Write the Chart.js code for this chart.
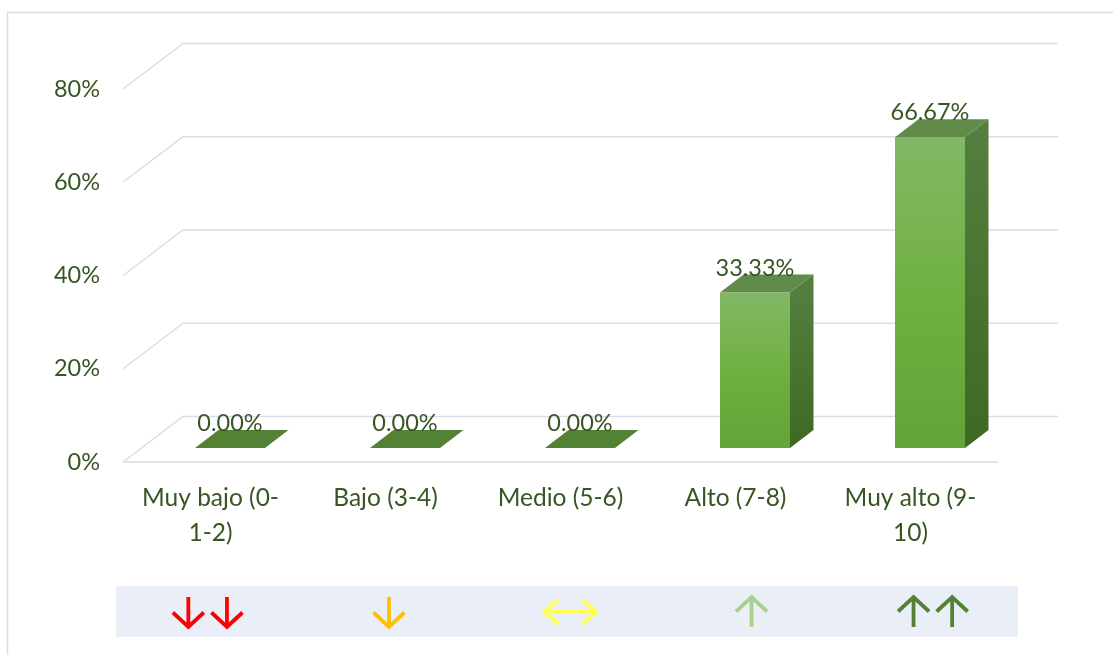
<!DOCTYPE html>
<html>
<head>
<meta charset="utf-8">
<script src="https://cdn.jsdelivr.net/npm/chart.js@4/dist/chart.umd.min.js"></script>
<style>
html,body{margin:0;padding:0;background:#ffffff;}
#wrap{position:relative;width:1113px;height:655px;}
</style>
</head>
<body>
<div id="wrap"><canvas id="c" width="1113" height="655"></canvas></div>
<script>
// ---- data ----
const categories = [["Muy bajo (0-", "1-2)"], "Bajo (3-4)", "Medio (5-6)", "Alto (7-8)", ["Muy alto (9-", "10)"]];
const values = [0, 0, 0, 0.3333, 0.6667];
const yTickValues = [0, 0.2, 0.4, 0.6, 0.8];
const indicatorSymbols = ["↓↓", "↓", "↔", "↑", "↑↑"];
const indicatorColors = ["#FF0000", "#FFC000", "#FFFF5A", "#A9D18E", "#548235"];

// ---- style ----
const TEXT_COLOR = "#375623";
const FONT_FAMILY = "Lato, 'Open Sans', sans-serif";
const GRID_COLOR = "#DADDE4";
const WALL = { dx: 60, dy: -45.5 };      // depth of the 3D floor / wall
const BAR_SHIFT = { dx: 19.5, dy: -14 };  // bar front face offset inside the depth
const BAR_DEPTH = { dx: 23.5, dy: -18 };  // bar depth

function pct(v) { return (v * 100).toFixed(2) + "%"; }

function drawArrowGlyph(ctx, ch, cx, cy) {
  const L = 15, HX = 15.5, HY = 14.5;
  ctx.beginPath();
  if (ch === "↓") {
    ctx.moveTo(cx, cy - L); ctx.lineTo(cx, cy + L);
    ctx.moveTo(cx - HX, cy + L - HY); ctx.lineTo(cx, cy + L); ctx.lineTo(cx + HX, cy + L - HY);
  } else if (ch === "↑") {
    ctx.moveTo(cx, cy + L); ctx.lineTo(cx, cy - L);
    ctx.moveTo(cx - HX, cy - L + HY); ctx.lineTo(cx, cy - L); ctx.lineTo(cx + HX, cy - L + HY);
  } else if (ch === "↔") {
    const W = 26, AX = 14, AY = 12;
    ctx.moveTo(cx - W, cy); ctx.lineTo(cx + W, cy);
    ctx.moveTo(cx - W + AX, cy - AY); ctx.lineTo(cx - W, cy); ctx.lineTo(cx - W + AX, cy + AY);
    ctx.moveTo(cx + W - AX, cy - AY); ctx.lineTo(cx + W, cy); ctx.lineTo(cx + W - AX, cy + AY);
  }
  ctx.stroke();
}

const plot3d = {
  id: "plot3d",
  beforeDraw(chart) {
    const ctx = chart.ctx;
    ctx.save();
    // outer frame (left and top edges)
    ctx.strokeStyle = "#D9DDE4";
    ctx.lineWidth = 1.5;
    ctx.beginPath();
    ctx.moveTo(7.5, 655);
    ctx.lineTo(7.5, 12.5);
    ctx.lineTo(1113, 12.5);
    ctx.stroke();
    // indicator strip
    const sx = 116, sy = 586, sw = 902, sh = 51;
    ctx.fillStyle = "#EAEEF7";
    ctx.fillRect(sx, sy, sw, sh);
    const colW = 181.3, gap = 38.6;
    ctx.lineWidth = 3.8;
    ctx.lineCap = "butt";
    ctx.lineJoin = "miter";
    indicatorSymbols.forEach((s, i) => {
      const chars = Array.from(s);
      const cx = 117 + colW * (i + 0.5);
      ctx.strokeStyle = indicatorColors[i];
      chars.forEach((ch, k) => {
        const off = (k - (chars.length - 1) / 2) * gap;
        drawArrowGlyph(ctx, ch, cx + off, 612);
      });
    });
    ctx.restore();
  },
  beforeDatasetsDraw(chart) {
    const ctx = chart.ctx;
    const ys = chart.scales.y, area = chart.chartArea;
    ctx.save();
    ctx.strokeStyle = GRID_COLOR;
    ctx.lineWidth = 1.5;
    yTickValues.forEach(v => {
      const y = ys.getPixelForValue(v);
      ctx.beginPath();
      ctx.moveTo(area.left, y);
      ctx.lineTo(area.left + WALL.dx, y + WALL.dy);
      ctx.lineTo(area.right + WALL.dx, y + WALL.dy);
      ctx.stroke();
      if (v === 0) {
        ctx.beginPath();
        ctx.moveTo(area.left, y);
        ctx.lineTo(area.right, y);
        ctx.stroke();
      }
    });
    ctx.restore();
  },
  afterDatasetsDraw(chart) {
    const ctx = chart.ctx;
    const meta = chart.getDatasetMeta(0);
    ctx.save();
    meta.data.forEach((el, i) => {
      const p = el.getProps(["x", "y", "base", "width"], true);
      const xL = p.x - p.width / 2 + BAR_SHIFT.dx;
      const xR = p.x + p.width / 2 + BAR_SHIFT.dx;
      const yT = p.y + BAR_SHIFT.dy;
      const yB = p.base + BAR_SHIFT.dy;
      const v = values[i];
      if (yB - yT > 0.5) {
        // front
        let g = ctx.createLinearGradient(0, yT, 0, yB);
        g.addColorStop(0, "#82B866");
        g.addColorStop(0.5, "#70B042");
        g.addColorStop(1, "#64A337");
        ctx.fillStyle = g;
        ctx.fillRect(xL, yT, xR - xL, yB - yT);
        // side
        g = ctx.createLinearGradient(0, yT, 0, yB);
        g.addColorStop(0, "#547E3E");
        g.addColorStop(1, "#3E6923");
        ctx.fillStyle = g;
        ctx.beginPath();
        ctx.moveTo(xR, yT);
        ctx.lineTo(xR + BAR_DEPTH.dx, yT + BAR_DEPTH.dy);
        ctx.lineTo(xR + BAR_DEPTH.dx, yB + BAR_DEPTH.dy);
        ctx.lineTo(xR, yB);
        ctx.closePath();
        ctx.fill();
        ctx.fillStyle = "#618B49";
      } else {
        ctx.fillStyle = "#548235";
      }
      // top
      ctx.beginPath();
      ctx.moveTo(xL, yT);
      ctx.lineTo(xL + BAR_DEPTH.dx, yT + BAR_DEPTH.dy);
      ctx.lineTo(xR + BAR_DEPTH.dx, yT + BAR_DEPTH.dy);
      ctx.lineTo(xR, yT);
      ctx.closePath();
      ctx.fill();
      // value label
      ctx.fillStyle = TEXT_COLOR;
      ctx.font = "23.5px " + FONT_FAMILY;
      ctx.textAlign = "center";
      ctx.textBaseline = "alphabetic";
      ctx.fillText(pct(v), (xL + xR) / 2, yT + BAR_DEPTH.dy + 1);
    });
    ctx.restore();
  }
};

new Chart(document.getElementById("c"), {
  type: "bar",
  data: {
    labels: categories,
    datasets: [{
      data: values,
      backgroundColor: "rgba(0,0,0,0)",
      borderWidth: 0,
      barPercentage: 0.4,
      categoryPercentage: 1.0
    }]
  },
  options: {
    responsive: false,
    animation: false,
    devicePixelRatio: 1,
    layout: { padding: { left: 0, top: 89, right: 115, bottom: 0 } },
    plugins: { legend: { display: false }, tooltip: { enabled: false } },
    scales: {
      x: {
        grid: { display: false, drawTicks: false },
        border: { display: false },
        ticks: {
          color: TEXT_COLOR,
          padding: 19,
          maxRotation: 0,
          autoSkip: false,
          font: { family: FONT_FAMILY, size: 24.5, lineHeight: 1.41 }
        },
        afterFit(scale) { scale.height = 193; }
      },
      y: {
        min: 0,
        max: 0.8,
        afterBuildTicks(scale) { scale.ticks = yTickValues.map(v => ({ value: v })); },
        grid: { display: false, drawTicks: false },
        border: { display: false },
        ticks: {
          color: TEXT_COLOR,
          padding: 23,
          font: { family: FONT_FAMILY, size: 23.5 },
          callback: v => Math.round(v * 100) + "%"
        },
        afterFit(scale) { scale.width = 123; }
      }
    }
  },
  plugins: [plot3d]
});
</script>
</body>
</html>
